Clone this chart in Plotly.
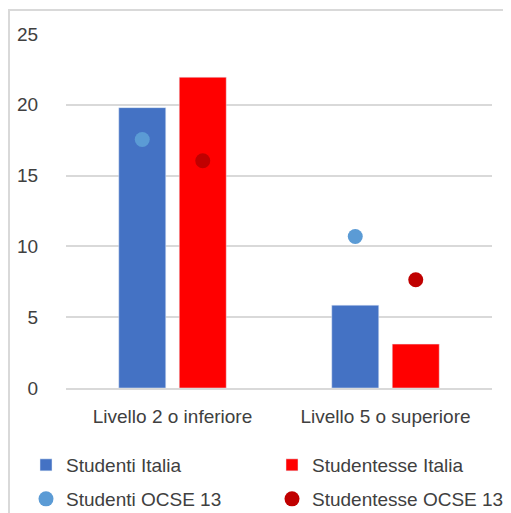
import plotly.graph_objects as go

categorie = ["Livello 2 o inferiore", "Livello 5 o superiore"]
studenti_italia = [19.8, 5.85]
studentesse_italia = [21.95, 3.1]
studenti_ocse = [17.55, 10.7]
studentesse_ocse = [16.05, 7.65]

font = "Liberation Sans, Arial, sans-serif"
txt = "#404040"

fig = go.Figure()

# barre (Italia)
fig.add_trace(go.Bar(x=categorie, y=studenti_italia, name="Studenti Italia",
                     marker=dict(color="#4472C4"), offsetgroup="m", legend="legend"))
fig.add_trace(go.Bar(x=categorie, y=studentesse_italia, name="Studentesse Italia",
                     marker=dict(color="#FF0000"), offsetgroup="f", legend="legend2"))
# punti (OCSE)
fig.add_trace(go.Scatter(x=categorie, y=studenti_ocse, name="Studenti OCSE 13", mode="markers",
                         marker=dict(color="#5B9BD5", size=15), offsetgroup="m", legend="legend3"))
fig.add_trace(go.Scatter(x=categorie, y=studentesse_ocse, name="Studentesse OCSE 13", mode="markers",
                         marker=dict(color="#C00000", size=15), offsetgroup="f", legend="legend4"))

# la pagina ha un margine di 8px sul body: tutto spostato di -8
leg = dict(orientation="h", xref="container", yref="container", xanchor="left",
           yanchor="middle", bgcolor="rgba(0,0,0,0)",
           font=dict(family=font, size=19, color=txt))
r1, r2 = 1 - 457 / 513, 1 - 491 / 513
c1, c2 = 18 / 511, 264 / 511

fig.update_layout(
    width=511, height=513,
    margin=dict(l=58, r=27, t=26, b=133, autoexpand=False),
    paper_bgcolor="white", plot_bgcolor="white",
    barmode="group", scattermode="group",
    bargap=0.432, bargroupgap=0.223,
    font=dict(family=font, size=19, color=txt),
    showlegend=True,
    legend=dict(leg, x=c1, y=r1),
    legend2=dict(leg, x=c2, y=r1),
    legend3=dict(leg, x=c1, y=r2),
    legend4=dict(leg, x=c2, y=r2),
    shapes=[dict(type="rect", xref="paper", yref="paper",
                 x0=(1 - 58) / 426, x1=1.3, y0=-1, y1=(380 - 2) / 354,
                 line=dict(color="#D9D9D9", width=2), layer="below")],
)
fig.update_yaxes(range=[0, 25], dtick=5, showgrid=True, gridcolor="#D9D9D9", gridwidth=2,
                 zeroline=False, showline=False, ticks="outside", ticklen=23,
                 tickcolor="rgba(0,0,0,0)", tickfont=dict(size=19, color=txt))
fig.update_xaxes(showline=True, linecolor="#D9D9D9", linewidth=2, ticks="outside",
                 ticklen=10, tickcolor="rgba(0,0,0,0)", tickfont=dict(size=19, color=txt))

fig.write_html("out.html")
